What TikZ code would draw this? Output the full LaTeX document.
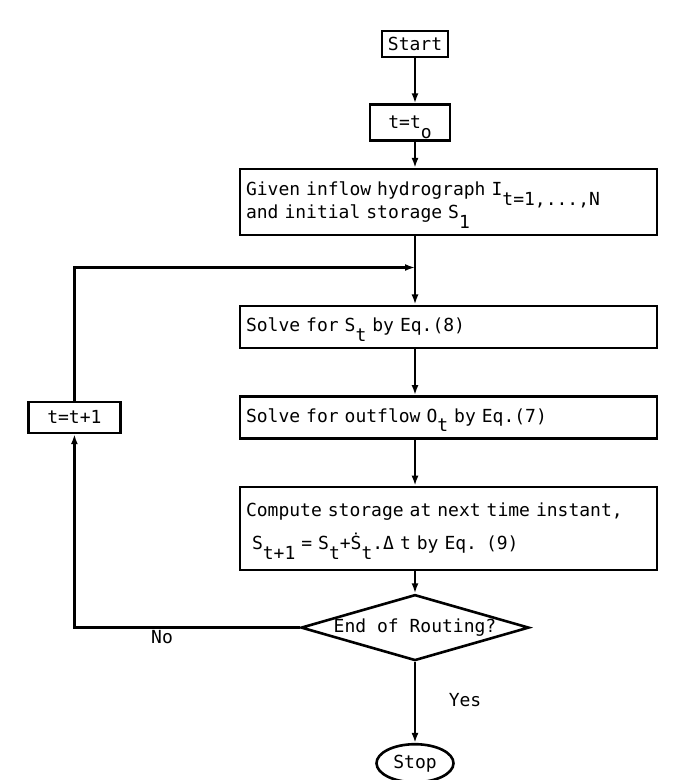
\documentclass[tikz,border=0pt]{standalone}
\usepackage{fontspec}
\setmonofont{DejaVu Sans Mono}
\usepackage{tikz}
\usetikzlibrary{arrows.meta,positioning,shapes.geometric}
\newcommand{\lo}[1]{\raisebox{-4.8pt}[0pt][0pt]{#1}}

\begin{document}
\begin{tikzpicture}[x=0.5pt, y=-0.5pt,
    every node/.style={font=\ttfamily\fontsize{9}{11.5}\selectfont},
    box/.style={draw, line width=1.3pt, inner xsep=3pt, inner ysep=0pt},
    wide/.style={box, text width=202.5pt, align=left, minimum height=#1},
    flow/.style={-{Latex[length=5pt,width=3.5pt]}, line width=1.2pt}]
    \useasboundingbox (0,0) rectangle (695,780);
    \node[box, minimum width=32pt, minimum height=13pt] (start) at (415,44) {Start};
    \node[box, minimum width=40pt, minimum height=18pt, below=22.5pt of start, xshift=-2.5pt] (init) {t=t\lo{o}};
    \node[wide=33pt, below=13pt of init, xshift=19.25pt] (given) {Given inflow hydrograph I\lo{t=1,...,N}\\and initial storage S\lo{1}};
    \node[wide=21pt, below=34pt of given] (solve) {Solve for S\lo{t} by Eq.(8)};
    \node[wide=21pt, below=23pt of solve] (outflow) {Solve for outflow O\lo{t} by Eq.(7)};
    \node[wide=41.5pt, below=23pt of outflow] (compute) {Compute storage at next time instant,\\[5pt]\ S\lo{t+1} = S\lo{t}+\.{S}\lo{t}.Δ t by Eq. (9)};
    \node[diamond, draw, line width=1.3pt, inner sep=0pt, aspect=3.45, minimum width=114pt, minimum height=33pt, below=11pt of compute, xshift=-16.75pt] (check) {End of Routing?};
    \node[ellipse, draw, line width=1.3pt, inner sep=0pt, minimum width=38.5pt, minimum height=19pt, below=40.5pt of check] (stop) {Stop};
    \node[box, minimum width=46pt, minimum height=15.5pt, left=58.5pt of outflow] (incr) {t=t+1};
    \node (no) at (162,637) {No};
    \node (yes) at (465,700) {Yes};
    \path (start |- given.south) ++(0,31) coordinate (merge);
    \draw[flow] (start) -- (start |- init.north);
    \draw[flow] (start |- init.south) -- (start |- given.north);
    \draw[flow] (start |- given.south) -- (start |- solve.north);
    \draw[flow] (start |- solve.south) -- (start |- outflow.north);
    \draw[flow] (start |- outflow.south) -- (start |- compute.north);
    \draw[flow] (start |- compute.south) -- (check.north);
    \draw[flow] (check.south) -- (stop.north);
    \draw[flow] (check.west) -| (incr.south);
    \draw[flow] (incr.north) |- (merge);
\end{tikzpicture}
\end{document}
